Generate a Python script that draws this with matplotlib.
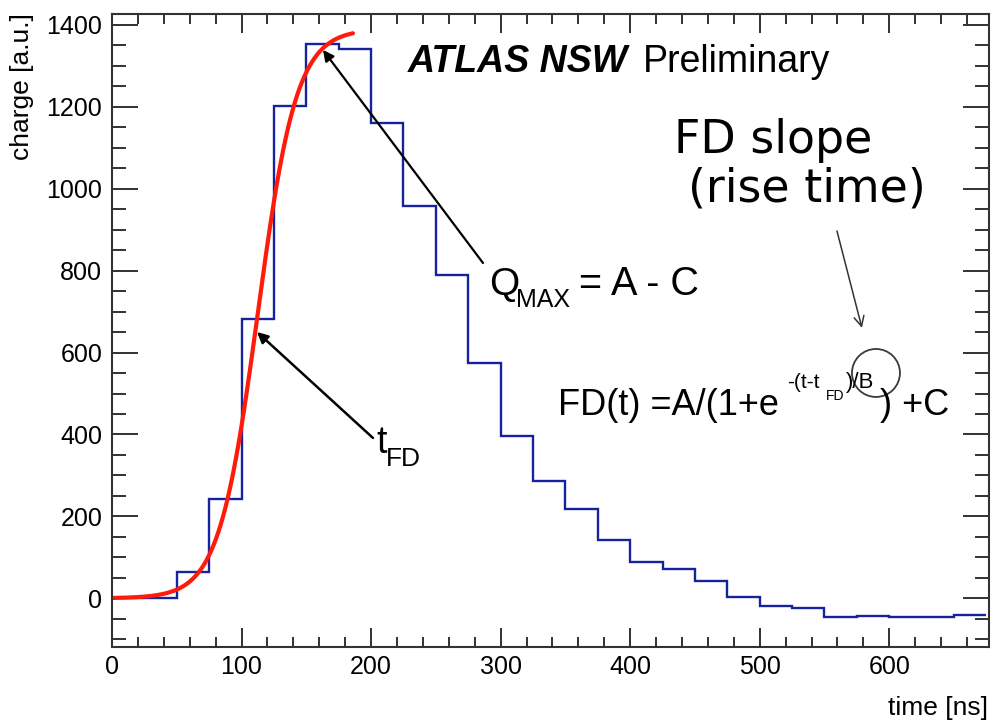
import numpy as np
import matplotlib.pyplot as plt
from matplotlib.patches import Ellipse

plt.rcParams['font.family'] = ['Liberation Sans', 'DejaVu Sans']
plt.rcParams['mathtext.fontset'] = 'custom'
plt.rcParams['mathtext.rm'] = 'Liberation Sans'

# pulse samples, 25 ns bins
bin_edges = np.arange(0, 700, 25)
charge = [0, 0, 65, 242, 682, 1201, 1354, 1341, 1160, 959, 789, 574, 397,
          287, 219, 142, 89, 71, 42, 2, -19, -24, -45, -43, -45, -45, -40]

# Fermi-Dirac fit parameters
fd_A = 1390.0
fd_B = 15.0
fd_t = 112.5
fd_C = 0.0
fit_range = (0.0, 186.0)

fig = plt.figure(figsize=(9.94, 7.22), dpi=100)
ax = fig.add_axes([112/994, 75/722, 877/994, 633.5/722])

ax.stairs(charge, bin_edges, color='#16239c', lw=1.7, baseline=None)

t = np.linspace(fit_range[0], fit_range[1], 400)
fd = fd_A / (1 + np.exp(-(t - fd_t) / fd_B)) + fd_C
ax.plot(t, fd, color='#ff1a0a', lw=3.0, solid_capstyle='round')

ax.set_xlim(0, 677)
ax.set_ylim(-119, 1428)
ax.set_xticks(np.arange(0, 700, 100))
ax.set_xticks(np.arange(0, 680, 20), minor=True)
ax.set_yticks(np.arange(0, 1401, 200))
ax.set_yticks(np.arange(-100, 1428, 50), minor=True)
ax.tick_params(which='both', direction='in', top=True, right=True,
               labelsize=18, width=1.3, color='#222222')
ax.tick_params(axis='x', which='major', length=14, pad=6)
ax.tick_params(axis='x', which='minor', length=7)
ax.tick_params(axis='y', which='major', length=19, pad=7)
ax.tick_params(axis='y', which='minor', length=10)
for s in ax.spines.values():
    s.set_linewidth(1.5)
    s.set_color('#333333')

fig.text(22/994, 1 - 13/722, 'charge [a.u.]', rotation=90, ha='center',
         va='top', fontsize=19)
fig.text(988/994, 7/722, 'time [ns]', ha='right', va='baseline', fontsize=19)

# pixel -> data helpers for placing the annotations
def dx(px):
    return (px - 112) / 1.2955

def dy(py):
    return (598.3 - py) / 0.4095

ax.text(dx(408), dy(72), 'ATLAS NSW', fontsize=27, fontweight='bold',
        fontstyle='italic', va='baseline')
ax.text(dx(643), dy(72), 'Preliminary', fontsize=27, va='baseline')

# Q_MAX
ax.annotate('', xy=(dx(323), dy(50)), xytext=(dx(483), dy(263)),
            arrowprops=dict(arrowstyle='-|>', color='black', lw=1.6,
                            mutation_scale=16, shrinkA=0, shrinkB=0))
ax.text(dx(489), dy(295), 'Q', fontsize=28, va='baseline')
ax.text(dx(516), dy(307), 'MAX', fontsize=18, va='baseline')
ax.text(dx(579), dy(295), '= A - C', fontsize=28.5, va='baseline')

# t_FD
ax.annotate('', xy=(dx(257), dy(332)), xytext=(dx(373), dy(438)),
            arrowprops=dict(arrowstyle='-|>', color='black', lw=1.8,
                            mutation_scale=16, shrinkA=0, shrinkB=0))
ax.text(dx(376), dy(453), 't', fontsize=27, va='baseline')
ax.text(dx(386), dy(466), 'FD', fontsize=19, va='baseline')

# fit function
ax.text(dx(558), dy(415), 'FD(t) =A/(1+e', fontsize=26, va='baseline')
ax.text(dx(787), dy(388), '-(t-t', fontsize=15, va='baseline')
ax.text(dx(826), dy(400), 'FD', fontsize=10, va='baseline')
ax.text(dx(846), dy(388), ')/B', fontsize=16, va='baseline')
ax.text(dx(880), dy(415), ') +C', fontsize=26, va='baseline')
ax.add_patch(Ellipse((dx(876), dy(373)), 48/1.2955, 48/0.4095,
                     facecolor='none', edgecolor='#3a3a3a', lw=1.3))

# rise time note
ax.text(dx(674), dy(153), 'FD slope', fontsize=33, va='baseline',
        family='DejaVu Sans')
ax.text(dx(688), dy(202), '(rise time)', fontsize=33, va='baseline',
        family='DejaVu Sans')
ax.annotate('', xy=(dx(862), dy(328)), xytext=(dx(837), dy(231)),
            arrowprops=dict(arrowstyle='->', color='#333333', lw=1.1,
                            mutation_scale=18, shrinkA=0, shrinkB=0))

fig.savefig('out.png', dpi=100)
